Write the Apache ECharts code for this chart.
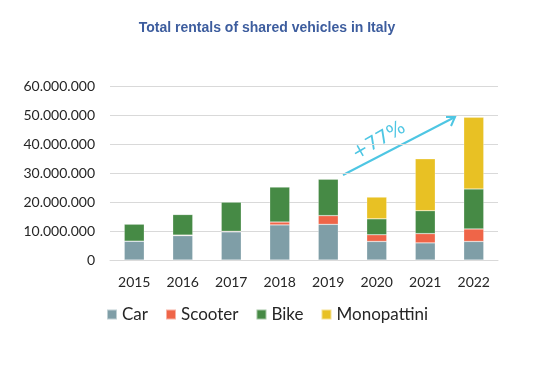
<!DOCTYPE html>
<html><head><meta charset="utf-8">
<script src="https://cdn.jsdelivr.net/npm/echarts@6/dist/echarts.min.js"></script>
<style>html,body{margin:0;padding:0;background:#fff}#c{width:538px;height:365px}</style>
</head><body><div id="c"></div>
<script>
const years = ['2015','2016','2017','2018','2019','2020','2021','2022'];
const car = [6.5e6, 8.4e6, 9.7e6, 12.1e6, 12.3e6, 6.4e6, 5.9e6, 6.4e6];
const scooter = [0, 0.2e6, 0.2e6, 1.0e6, 3.0e6, 2.3e6, 3.2e6, 4.3e6];
const bike = [5.9e6, 7.1e6, 10.1e6, 12.1e6, 12.6e6, 5.5e6, 7.9e6, 13.8e6];
const mono = [0, 0, 0, 0, 0, 7.5e6, 17.9e6, 24.7e6];
const colors = ['#7f9ea7', '#ef6548', '#468a45', '#e8c124'];
const fmt = v => String(v).replace(/\B(?=(\d{3})+(?!\d))/g, '.');
const chart = echarts.init(document.getElementById('c'));
const mk = (name, data, i) => ({
  name, type: 'bar', stack: 'total', data, barWidth: 20,
  itemStyle: { color: colors[i], borderColor: 'rgba(255,255,255,0.5)', borderWidth: 0.5 }
});
chart.setOption({
  animation: false,
  title: { text: 'Total rentals of shared vehicles in Italy', left: 262, textAlign: 'center', top: 16,
    textStyle: { fontFamily: 'Liberation Sans', fontSize: 14, fontWeight: 'bold', color: '#3d5d9e' } },
  grid: { left: 110, right: 40, top: 86, bottom: 105 },
  legend: { bottom: 37, left: 101, itemWidth: 10, itemHeight: 10, itemGap: 17,
    icon: 'rect', textStyle: { fontFamily: 'Lato', fontSize: 17, color: '#262626', padding: [0,0,0,0] },
    data: ['Car','Scooter','Bike','Monopattini'] },
  xAxis: { type: 'category', data: years,
    axisLine: { lineStyle: { color: '#d9d9d9' } }, axisTick: { show: false },
    axisLabel: { fontFamily: 'Lato', fontSize: 14, color: '#262626', margin: 15 } },
  yAxis: { type: 'value', min: 0, max: 60e6, interval: 10e6,
    axisLabel: { fontFamily: 'Lato', fontSize: 14, color: '#262626', margin: 15, formatter: fmt },
    splitLine: { lineStyle: { color: '#d9d9d9' } } },
  series: [mk('Car', car, 0), mk('Scooter', scooter, 1), mk('Bike', bike, 2), mk('Monopattini', mono, 3)],
  graphic: [
    { type: 'line', shape: { x1: 343, y1: 175, x2: 455, y2: 117 }, style: { stroke: '#4ec6e3', lineWidth: 2 } },
    { type: 'polyline', shape: { points: [[446, 117], [455, 117], [451, 126]] }, style: { stroke: '#4ec6e3', lineWidth: 2, fill: null } },
    { type: 'text', x: 379, y: 141, rotation: 30 * Math.PI / 180,
      style: { text: '+77%', fontFamily: 'DejaVu Sans', fontSize: 19, fill: '#4ec6e3', align: 'center', verticalAlign: 'middle' } }
  ]
});
</script></body></html>
